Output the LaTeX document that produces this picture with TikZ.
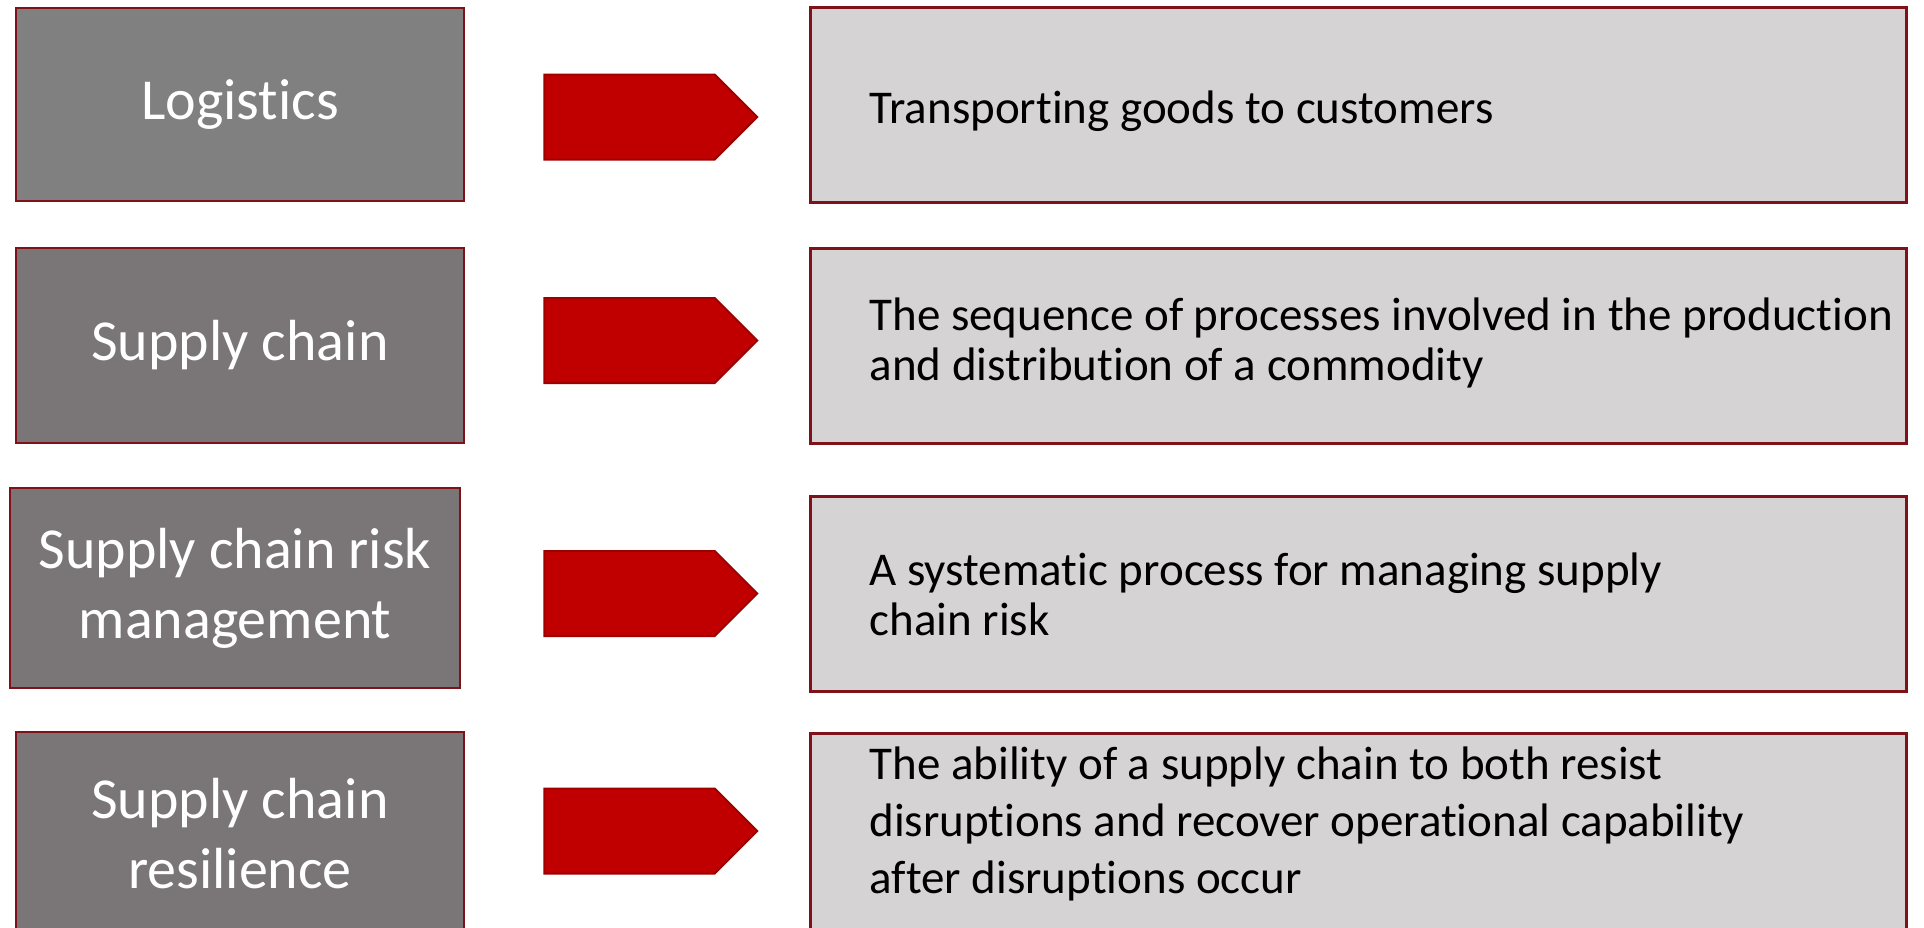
\documentclass[tikz,border=0pt]{standalone}
\usepackage{fontspec}
\setmainfont{Carlito}[Ligatures=NoCommon]
\usetikzlibrary{shapes.symbols}
\definecolor{boxred}{RGB}{127,17,25}
\definecolor{termgray}{RGB}{128,128,128}
\definecolor{termmud}{RGB}{122,118,119}
\definecolor{defgray}{RGB}{214,211,212}
\definecolor{arrowred}{RGB}{192,0,0}
\definecolor{arrowedge}{RGB}{158,0,0}

\begin{document}
\begin{tikzpicture}[x=1pt,y=1pt]
\tikzset{termbox/.style={draw=boxred, line width=2.5pt, fill=termgray, minimum width=448pt, minimum height=193pt, text=white, align=center, font=\fontsize{58}{70}\selectfont},
defbox/.style={draw=boxred, line width=3pt, fill=defgray, minimum width=1096pt, minimum height=195pt},
deftext/.style={anchor=base west, align=left, font=\fontsize{47}{50}\selectfont},
redarrow/.style={shape=signal, signal to=east, draw=arrowedge, line width=2pt, fill=arrowred, minimum width=213pt, minimum height=85pt, inner sep=0pt}}
\useasboundingbox (0,0) rectangle (1924,-927);
% terms
\node[termbox] (L1) at (240,-104.5) {Logistics};
\node[termbox, fill=termmud, minimum height=195pt] (L2) at (240,-345.5) {Supply chain};
\node[termbox, fill=termmud, minimum width=450pt, minimum height=200pt] (L3) at (235,-588) {Supply chain risk\\management};
\node[termbox, fill=termmud, minimum height=203pt] (L4) at (240,-833.5) {Supply chain\\resilience};
% arrows
\node[redarrow] (A1) at (629.5,-117) {};
\node[redarrow] (A2) at (629.5,-340.5) {};
\node[redarrow] (A3) at (629.5,-593.5) {};
\node[redarrow] (A4) at (629.5,-831) {};
% definitions
\node[defbox] (R1) at (1358,-104.5) {};
\node[defbox] (R2) at (1358,-345.5) {};
\node[defbox] (R3) at (1358,-593.5) {};
\node[defbox, minimum height=202pt] (R4) at (1358,-834) {};
\node[deftext] (D1) at (866,-123) {Transporting goods to customers};
\node[deftext] (D2) at (866,-380) {The sequence of processes involved in the production\\and distribution of a commodity};
\node[deftext] (D3) at (866,-635) {A systematic process for managing supply\\chain risk};
\node[deftext, font=\fontsize{47}{57}\selectfont] (D4) at (866,-893) {The ability of a supply chain to both resist\\disruptions and recover operational capability\\after disruptions occur};
\end{tikzpicture}
\end{document}
